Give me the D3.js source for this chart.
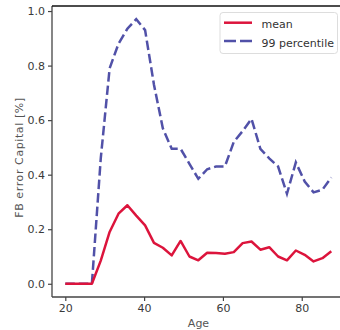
<!DOCTYPE html>
<html>
<head>
<meta charset="utf-8">
<script src="https://cdn.jsdelivr.net/npm/d3@7"></script>
<style>
  html, body { margin: 0; padding: 0; background: #fff; }
  svg { display: block; }
  text { font-family: "DejaVu Sans", sans-serif; }
</style>
</head>
<body>
<svg id="chart" width="340" height="330"></svg>
<script>
const ages = [20, 22.25, 24.5, 26.75, 29, 31.25, 33.5, 35.75, 38, 40.25, 42.5, 44.75, 47, 49.25, 51.5, 53.75,
              56, 58.25, 60.5, 62.75, 65, 67.25, 69.5, 71.75, 74, 76.25, 78.5, 80.75, 83, 85.25, 87.5];
const meanValues = [0, 0, 0, 0, 0.085, 0.19, 0.257, 0.288, 0.25, 0.214, 0.15, 0.132, 0.104, 0.157, 0.100, 0.086,
                    0.114, 0.113, 0.11, 0.116, 0.149, 0.155, 0.125, 0.134, 0.1, 0.086, 0.122, 0.106, 0.082, 0.094, 0.119];
const p99Values = [0, 0, 0, 0, 0.46, 0.79, 0.88, 0.935, 0.97, 0.93, 0.73, 0.57, 0.495, 0.495, 0.44, 0.385,
                   0.42, 0.43, 0.43, 0.52, 0.56, 0.605, 0.495, 0.46, 0.43, 0.33, 0.445, 0.375, 0.335, 0.345, 0.39];
const xTicks = [20, 40, 60, 80];
const yTicks = [0.0, 0.2, 0.4, 0.6, 0.8, 1.0];
const seriesNames = ["mean", "99 percentile"];
const xLabel = "Age";
const yLabel = "FB error Capital [%]";

(function () {
const svg = d3.select("#chart");
const mLeft = 52, mRight = 344.6, mTop = 6, mBottom = 297;

const x = d3.scaleLinear().domain([16.625, 90.875]).range([mLeft, mRight]);
const y = d3.scaleLinear().domain([-0.0485, 1.0185]).range([mBottom, mTop]);

const axisColor = "#444";
const tickText = "#3a3a3a";
const dash = "9.5,4";

// lines
const line = d3.line().x((d, i) => x(ages[i])).y(d => y(d));
const plot = svg.append("g");
plot.append("path").datum(p99Values)
  .attr("d", line).attr("fill", "none")
  .attr("stroke", "#5151a8").attr("stroke-width", 2.5)
  .attr("stroke-dasharray", dash);
plot.append("path").datum(meanValues)
  .attr("d", line).attr("fill", "none")
  .attr("stroke", "#dc143c").attr("stroke-width", 2.5)
  .attr("stroke-linejoin", "round");

// axes
const xAxis = d3.axisBottom(x).tickValues(xTicks).tickSize(4).tickPadding(3).tickFormat(d3.format("d"));
const yAxis = d3.axisLeft(y).tickValues(yTicks).tickSize(4).tickPadding(3).tickFormat(d3.format(".1f"));

const gx = svg.append("g").attr("transform", `translate(0,${mBottom})`).call(xAxis);
const gy = svg.append("g").attr("transform", `translate(${mLeft},0)`).call(yAxis);
[gx, gy].forEach(g => {
  g.select(".domain").remove();
  g.selectAll(".tick line").attr("stroke", axisColor).attr("stroke-width", 1.2);
  g.selectAll(".tick text").attr("fill", tickText).attr("font-size", 11)
    .attr("font-family", "DejaVu Sans, sans-serif");
});

// spines: left, bottom, top
svg.append("line").attr("x1", mLeft).attr("x2", mLeft).attr("y1", mTop).attr("y2", mBottom)
  .attr("stroke", axisColor).attr("stroke-width", 1.3);
svg.append("line").attr("x1", mLeft).attr("x2", mRight).attr("y1", mBottom).attr("y2", mBottom)
  .attr("stroke", axisColor).attr("stroke-width", 1.3);
svg.append("line").attr("x1", mLeft).attr("x2", mRight).attr("y1", mTop).attr("y2", mTop)
  .attr("stroke", "#111").attr("stroke-width", 1.3);

// axis labels
svg.append("text").attr("x", 198.5).attr("y", 327)
  .attr("text-anchor", "middle").attr("font-size", 11).attr("fill", "#555").text(xLabel);
svg.append("text").attr("transform", `translate(23,${(mTop + mBottom) / 2 + 6}) rotate(-90)`)
  .attr("text-anchor", "middle").attr("font-size", 11).attr("letter-spacing", 0.6)
  .attr("fill", "#555").text(yLabel);

// legend
const lg = svg.append("g");
lg.append("rect").attr("x", 220).attr("y", 12.5).attr("width", 117.5).attr("height", 41)
  .attr("rx", 3).attr("fill", "#fff").attr("fill-opacity", 0.8)
  .attr("stroke", "#ddd").attr("stroke-width", 1);
const styles = [
  { color: "#dc143c", dash: null },
  { color: "#5151a8", dash: "12,4" }
];
seriesNames.forEach((name, i) => {
  const ly = 22.7 + i * 18.3;
  const l = lg.append("line").attr("x1", 224).attr("x2", 252).attr("y1", ly).attr("y2", ly)
    .attr("stroke", styles[i].color).attr("stroke-width", 2.5);
  if (styles[i].dash) l.attr("stroke-dasharray", styles[i].dash);
  lg.append("text").attr("x", 261.5).attr("y", ly + 5.5).attr("font-size", 11)
    .attr("fill", "#333").text(name);
});
})();
</script>
</body>
</html>
